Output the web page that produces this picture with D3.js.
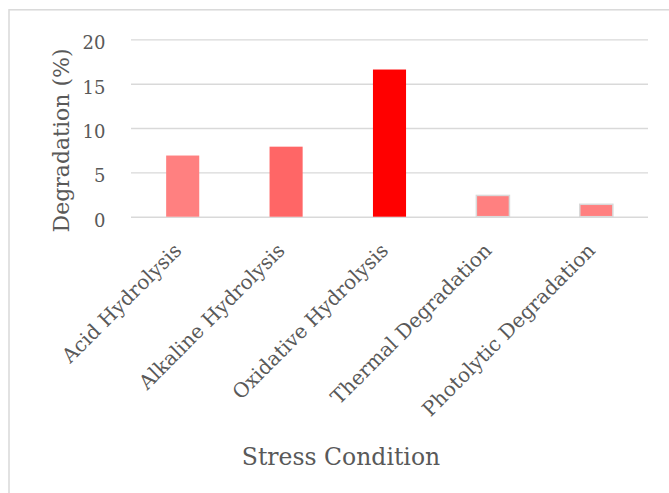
<!DOCTYPE html>
<html>
<head>
<meta charset="utf-8">
<script src="https://cdn.jsdelivr.net/npm/d3@7/dist/d3.min.js"></script>
<style>
  html, body { margin: 0; padding: 0; background: #fff; }
  svg { display: block; }
  text { font-family: "DejaVu Serif", "Liberation Serif", serif; fill: #595959; }
</style>
</head>
<body>
<script>
// Forced degradation results per stress condition
const conditions = ["Acid Hydrolysis", "Alkaline Hydrolysis", "Oxidative Hydrolysis", "Thermal Degradation", "Photolytic Degradation"];
const degradation = [6.9, 7.9, 16.6, 2.4, 1.4];
const barColors = ["#FF8080", "#FF6666", "#FF0000", "#FF8080", "#FF8080"];
const barOutlined = [false, false, false, true, true];
const yTicks = [0, 5, 10, 15, 20];

const W = 669, H = 493;
const plot = { left: 131, right: 648, top: 39.4, bottom: 216.7 };

const svg = d3.select("body").append("svg")
  .attr("width", W).attr("height", H);

// chart area frame (runs off the right and bottom edges)
svg.append("rect")
  .attr("x", 9).attr("y", 9.8)
  .attr("width", 700).attr("height", 520)
  .attr("fill", "#fff")
  .attr("stroke", "#d9d9d9").attr("stroke-width", 1.5);

const x = d3.scaleBand()
  .domain(conditions)
  .range([plot.left, plot.right])
  .paddingInner(0.68)
  .paddingOuter(0.34);

const y = d3.scaleLinear()
  .domain([0, 20])
  .range([plot.bottom, plot.top]);

// y axis with full-width gridlines
const yAxis = svg.append("g")
  .attr("transform", `translate(${plot.left},0)`)
  .call(d3.axisLeft(y)
    .tickValues(yTicks)
    .tickSize(-(plot.right - plot.left))
    .tickPadding(25.5));
yAxis.select(".domain").remove();
yAxis.selectAll(".tick line")
  .attr("stroke", "#d9d9d9").attr("stroke-width", 1.4);
yAxis.selectAll(".tick text")
  .attr("dy", 9.5)
  .style("font-family", "'DejaVu Serif', serif")
  .style("font-size", "18px")
  .attr("fill", "#595959");

// bars
svg.append("g").selectAll("rect")
  .data(conditions)
  .join("rect")
  .attr("x", d => x(d))
  .attr("width", x.bandwidth())
  .attr("y", (d, i) => y(degradation[i]))
  .attr("height", (d, i) => y(0) - y(degradation[i]))
  .attr("fill", (d, i) => barColors[i])
  .attr("stroke", (d, i) => barOutlined[i] ? "#d9d9d9" : "none")
  .attr("stroke-width", 1.5);

// x axis: rotated category labels
const xAxis = svg.append("g")
  .attr("transform", `translate(0,${plot.bottom})`)
  .call(d3.axisBottom(x).tickSize(0).tickPadding(0));
xAxis.select(".domain").remove();
xAxis.selectAll(".tick text")
  .attr("text-anchor", "end")
  .attr("dy", null)
  .attr("y", 0)
  .attr("transform", "translate(0,35) rotate(-45)")
  .style("font-family", "'DejaVu Serif', serif")
  .style("font-size", "20px")
  .attr("fill", "#595959");

// axis titles
svg.append("text")
  .attr("transform", "translate(69,140.5) rotate(-90)")
  .attr("text-anchor", "middle")
  .style("font-size", "22px")
  .text("Degradation (%)");

svg.append("text")
  .attr("x", 341).attr("y", 464.5)
  .attr("text-anchor", "middle")
  .style("font-size", "23.5px")
  .text("Stress Condition");
</script>
</body>
</html>
